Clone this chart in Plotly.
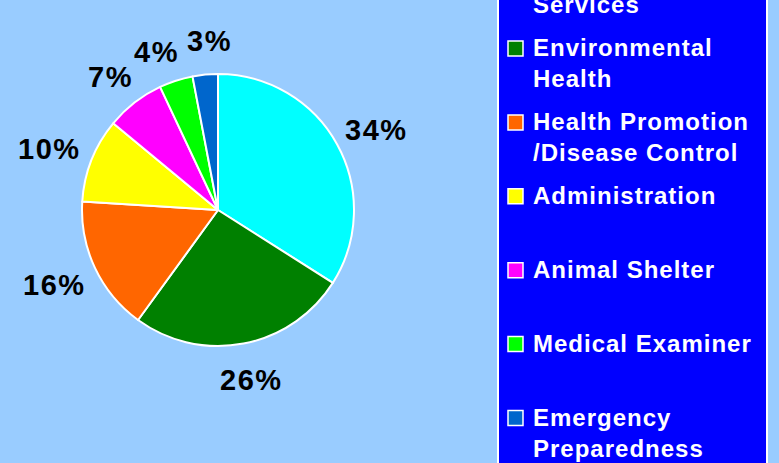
import math
import plotly.graph_objects as go

# ---- data ----
labels = ["Clinical<br>Services", "Environmental<br>Health",
          "Health Promotion<br>/Disease Control", "Administration",
          "Animal Shelter", "Medical Examiner", "Emergency<br>Preparedness"]
values = [34, 26, 16, 10, 7, 4, 3]
colors = ["#00FFFF", "#008000", "#FF6600", "#FFFF00", "#FF00FF", "#00FF00", "#0066CC"]

# ---- layout constants ----
W, H = 779, 463
BG = "#99CCFF"
FONT = "Arial, 'Liberation Sans', sans-serif"

PIE_CX, PIE_CY, PIE_R = 218, 210, 136
LABEL_GAP = 23          # gap between pie edge and label box
LABEL_FS, LABEL_LS = 29, 1.5
LABEL_H = 24
LABEL_WF = 0.7          # share of half-width used to clear the pie edge
LABEL_DY = 2            # font-metric compensation
MIN_XGAP = 8
dom_x = [(PIE_CX - PIE_R) / W, (PIE_CX + PIE_R) / W]
dom_y = [1 - (PIE_CY + PIE_R) / H, 1 - (PIE_CY - PIE_R) / H]


def px(x):
    return x / W


def py(y):
    return 1 - y / H


def spaced(text, ls):
    return "<br>".join(f"<span style='letter-spacing:{ls}px'><b>{part}</b></span>"
                       for part in text.split("<br>"))


fig = go.Figure()
fig.add_trace(go.Pie(
    labels=[l.replace("<br>", " ") for l in labels],
    values=values,
    marker=dict(colors=colors, line=dict(color="white", width=2)),
    sort=False,
    direction="clockwise",
    rotation=0,
    textinfo="none",
    hoverinfo="label+percent",
    showlegend=False,
    domain=dict(x=dom_x, y=dom_y),
))

annotations = []
shapes = []

# ---- percent labels placed outside slices (derived from the values) ----
total = sum(values)
texts = [f"{round(v / total * 100)}%" for v in values]
widths = [LABEL_FS * (0.556 * (len(t) - 1) + 0.889) + LABEL_LS * len(t) for t in texts]
angles = []
cum = 0
for v in values:
    angles.append((cum + v / 2) / total * 2 * math.pi)
    cum += v


def centre(i):
    a = angles[i]
    s, c = math.sin(a), math.cos(a)
    rr = PIE_R + LABEL_GAP
    return (PIE_CX + rr * s + LABEL_WF * widths[i] / 2 * s,
            PIE_CY - rr * c - LABEL_H / 2 * c + LABEL_DY)


def overlap(i, j):
    (xi, yi), (xj, yj) = centre(i), centre(j)
    return (abs(xi - xj) < (widths[i] + widths[j]) / 2 + MIN_XGAP and
            abs(yi - yj) < LABEL_H)


for i in range(1, len(values)):
    steps = 0
    while overlap(i - 1, i) and steps < 200:
        angles[i - 1] -= math.radians(0.25)
        angles[i] += math.radians(0.25)
        steps += 1

for i, t in enumerate(texts):
    lx, ly = centre(i)
    annotations.append(dict(
        x=px(lx), y=py(ly), xref="paper", yref="paper",
        text=spaced(t, LABEL_LS),
        showarrow=False, xanchor="center", yanchor="middle",
        font=dict(family=FONT, size=LABEL_FS, color="black"),
    ))

# ---- legend box ----
shapes.append(dict(type="rect", xref="paper", yref="paper",
                   x0=px(498), x1=px(767), y0=py(H + 20), y1=py(-20),
                   fillcolor="#0000FF", line=dict(color="white", width=2), layer="below"))

LEG_FS = 24
LEG_Y0, LEG_STEP, LH = -25.4, 73.9, 1.3 * LEG_FS
for i, (lab, c) in enumerate(zip(labels, colors)):
    first = LEG_Y0 + i * LEG_STEP
    n = lab.count("<br>") + 1
    annotations.append(dict(
        x=px(531), y=py(first - 1 + (n - 1) * LH / 2), xref="paper", yref="paper",
        text=spaced(lab, 1.0), align="left",
        showarrow=False, xanchor="left", yanchor="middle",
        font=dict(family=FONT, size=LEG_FS, color="white"),
    ))
    shapes.append(dict(type="rect", xref="paper", yref="paper",
                       x0=px(508), x1=px(523), y0=py(first + 7.5), y1=py(first - 7.5),
                       fillcolor=c, line=dict(color="white", width=1.5)))

fig.update_layout(
    width=W, height=H,
    margin=dict(l=0, r=0, t=0, b=0),
    paper_bgcolor=BG, plot_bgcolor=BG,
    annotations=annotations, shapes=shapes,
    font=dict(family=FONT),
)

fig.write_html("out.html", config={"displayModeBar": False},
               post_script="document.body.style.margin='0';document.body.style.overflow='hidden';")
